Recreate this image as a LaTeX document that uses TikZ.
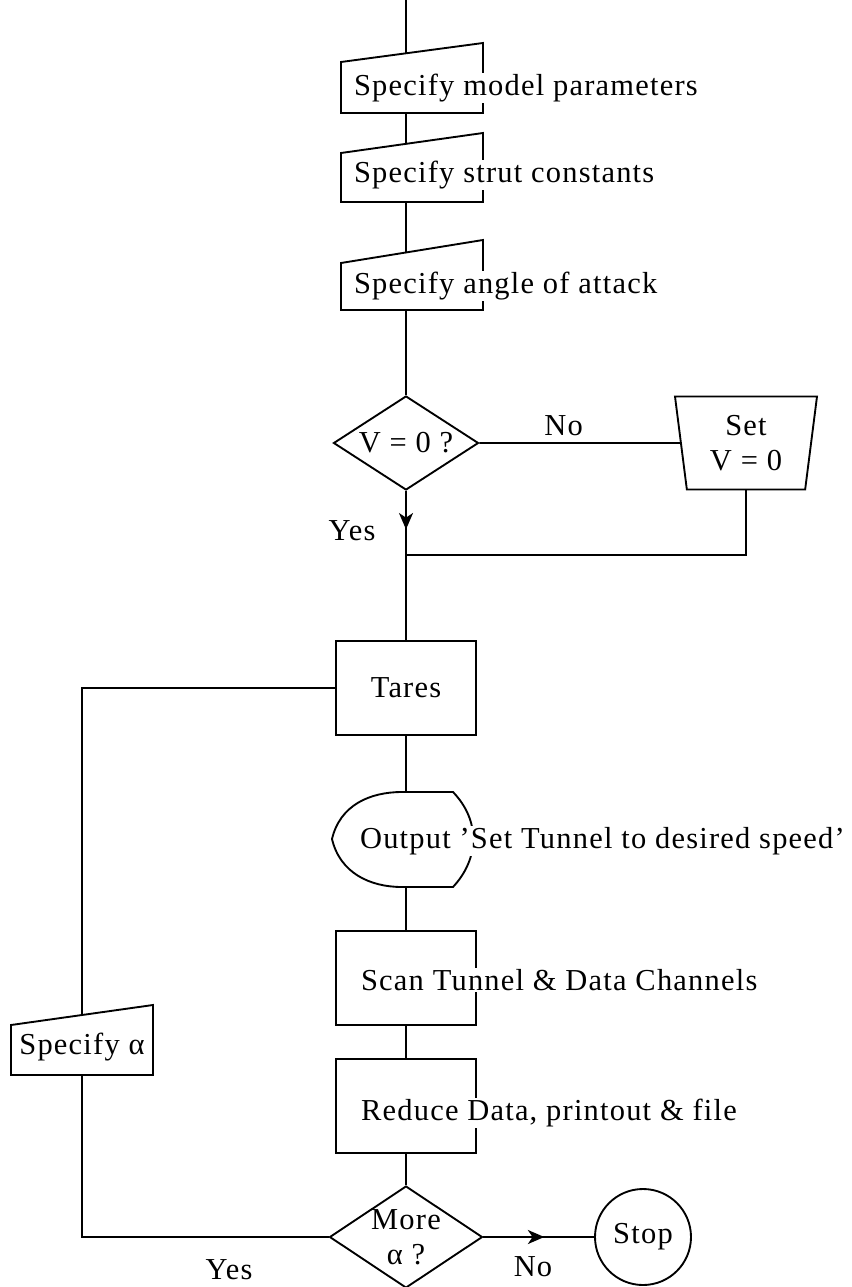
\documentclass[tikz,border=0pt]{standalone}
\usepackage{fontspec}
\setmainfont{Liberation Serif}[LetterSpace=4]
\usetikzlibrary{shapes.geometric,decorations.markings,arrows.meta}

\begin{document}
\begin{tikzpicture}[x=0.03cm,y=-0.03cm,line width=1.6pt,
	font=\fontsize{26}{30}\selectfont,
	box/.style={rectangle,draw,minimum width=4.2cm,minimum height=2.8cm,inner sep=0pt},
	lbl/.style={fill=white,inner sep=1pt,anchor=west},
	midarrow/.style={postaction={decorate},decoration={markings,
		mark=at position #1 with {\arrow{Stealth[length=14pt,width=12pt,inset=4pt]}}}}]
	\useasboundingbox (0,0) rectangle (852,1287);

	% input boxes at the top
	\draw (341,62) -- (483,43) -- (483,113) -- (341,113) -- cycle;
	\draw (341,153) -- (483,133) -- (483,202) -- (341,202) -- cycle;
	\draw (341,263) -- (483,240) -- (483,310) -- (341,310) -- cycle;
	\node at (352,88) [lbl] (mptxt) {Specify model parameters};
	\node at (352,175) [lbl] (sctxt) {Specify strut constants};
	\node at (352,286) [lbl] (aatxt) {Specify angle of attack};
	\coordinate (top) at (406,0);
	\coordinate (mp-t) at (406,53);
	\coordinate (mp-b) at (406,113);
	\coordinate (sc-t) at (406,144);
	\coordinate (sc-b) at (406,202);
	\coordinate (aa-t) at (406,252);
	\coordinate (aa-b) at (406,310);

	\node at (406,443) [diamond,draw,aspect=1.5,minimum width=4.35cm,minimum height=2.82cm,inner sep=0pt] (vq) {V = 0 ?};
	\node at (746,443) [trapezium,draw,shape border rotate=180,trapezium stretches body,
		trapezium angle=78,minimum width=4.26cm,minimum height=2.79cm,inner sep=0pt,align=center] (setv) {Set\\V = 0};
	\coordinate (join) at (406,555);

	\node at (406,688) [box] (tares) {Tares};

	% output to the operator
	\draw (332,839) .. controls (340,805) and (370,792) .. (402,792) -- (453,792)
		.. controls (480,820) and (480,858) .. (453,887) -- (402,887)
		.. controls (370,887) and (340,873) .. (332,839) -- cycle;
	\coordinate (out-t) at (406,792);
	\coordinate (out-b) at (406,887);
	\node at (358,841) [lbl] (outtxt) {Output ’Set Tunnel to desired speed’};

	\node at (406,978) [box] (scan) {};
	\node at (359,980) [lbl] (scantxt) {Scan Tunnel \& Data Channels};
	\node at (406,1106) [box] (red) {};
	\node at (359,1113) [lbl] (redtxt) {Reduce Data, printout \& file};

	\node at (406,1237) [diamond,draw,aspect=1.5,minimum width=4.2cm,minimum height=2.79cm,inner sep=0pt,align=center] (more) {More\\α ?};
	\node at (643,1237) [circle,draw,minimum size=2.88cm,inner sep=0pt] (stop) {Stop};

	% loop back
	\draw (11,1025) -- (153,1005) -- (153,1075) -- (11,1075) -- cycle;
	\node at (82,1047) (satxt) {Specify α};
	\coordinate (sa-t) at (82,1015);
	\coordinate (sa-b) at (82,1075);

	\draw (top) -- (mp-t);
	\draw (mp-b) -- (sc-t);
	\draw (sc-b) -- (aa-t);
	\draw (aa-b) -- (vq.north);
	\draw (vq.east) -- node[pos=0.42,above=2pt] (no1) {No} (setv.west);
	\draw[midarrow=0.6] (vq.south) -- (join);
	\node at (352,531) (yes1) {Yes};
	\draw (setv.south) |- (join);
	\draw (join) -- (tares.north);
	\draw (tares.south) -- (out-t);
	\draw (out-b) -- (scan.north);
	\draw (scan.south) -- (red.north);
	\draw (red.south) -- (more.north);
	\draw[midarrow=0.55] (more.east) -- (stop.west);
	\node at (533,1267) (no2) {No};
	\draw (tares.west) -| (sa-t);
	\draw (sa-b) |- (more.west);
	\node at (229,1270) (yes2) {Yes};
\end{tikzpicture}
\end{document}
